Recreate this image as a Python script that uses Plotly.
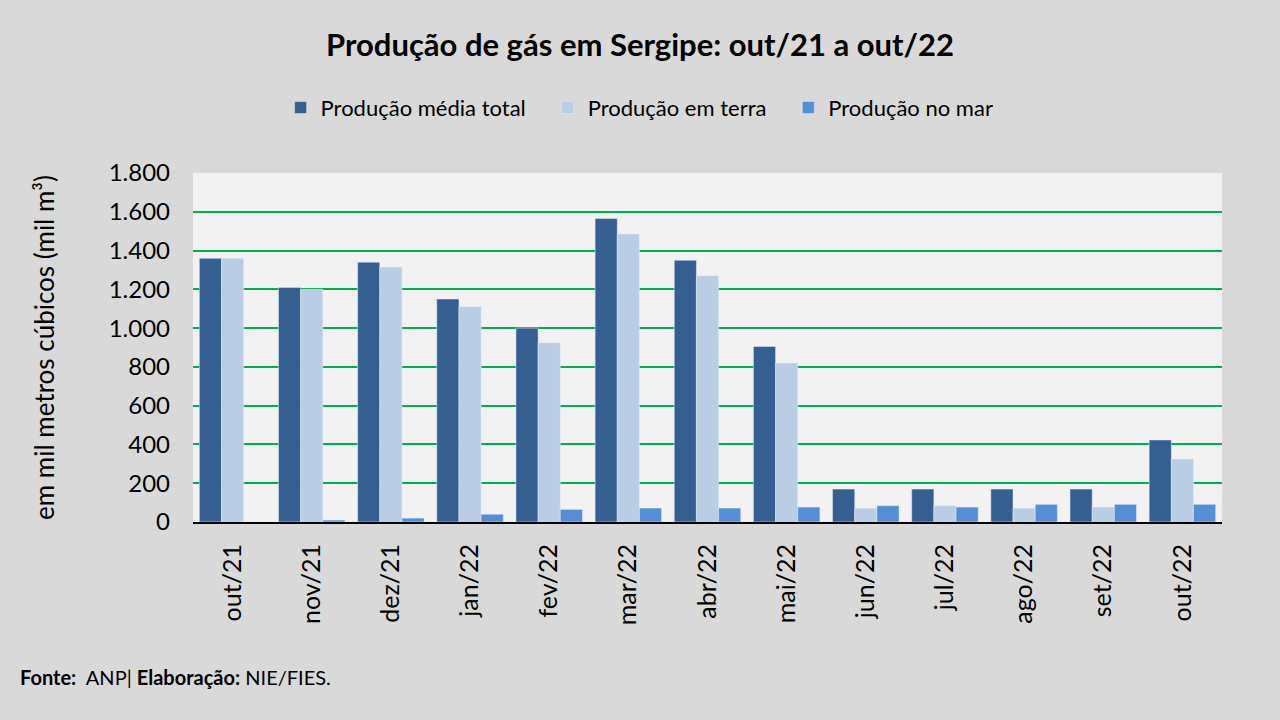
import plotly.graph_objects as go

meses = ["out/21", "nov/21", "dez/21", "jan/22", "fev/22", "mar/22", "abr/22",
         "mai/22", "jun/22", "jul/22", "ago/22", "set/22", "out/22"]

# mil m³
producao_total = [1360, 1210, 1340, 1150, 1000, 1565, 1350, 905, 170, 170, 170, 170, 423]
producao_terra = [1360, 1200, 1315, 1110, 925, 1485, 1270, 820, 71, 84, 71, 77, 325]
producao_mar = [0, 10, 20, 40, 65, 72, 72, 77, 84, 77, 91, 91, 91]

fonte = "Lato"
esp = "&nbsp;" * 3  # espaço entre itens da legenda

fig = go.Figure()
fig.add_trace(go.Bar(x=meses, y=producao_total, name="Produção média total" + esp,
                     marker_color="#355F91"))
fig.add_trace(go.Bar(x=meses, y=producao_terra, name="Produção em terra" + esp,
                     marker_color="#B9CDE5"))
fig.add_trace(go.Bar(x=meses, y=producao_mar, name="Produção no mar",
                     marker_color="#558ED5"))

fig.update_layout(
    width=1280, height=720,
    paper_bgcolor="#D9D9D9", plot_bgcolor="#F2F2F2",
    font=dict(family=fonte, color="#000000"),
    separators=",.",
    barmode="group", bargap=0.16, bargroupgap=0.0,
    margin=dict(l=193, r=58, t=173, b=198),
    title=dict(text="<b>Produção de gás em Sergipe: out/21 a out/22</b>",
               x=0.5, xanchor="center", y=0.937, yanchor="middle",
               font=dict(size=31, family=fonte)),
    legend=dict(orientation="h", x=0.434, xanchor="center", y=1.187, yanchor="middle",
                font=dict(size=22), bgcolor="rgba(0,0,0,0)", traceorder="normal"),
    showlegend=True,
)

fig.update_yaxes(range=[0, 1800], dtick=200, tickformat=",d",
                 showgrid=True, gridcolor="#00B050", gridwidth=2,
                 zeroline=False, showline=False,
                 tickfont=dict(size=24), ticks="", ticklabelstandoff=22,
                 title=dict(text="em mil metros cúbicos (mil m³)",
                            font=dict(size=26), standoff=46))
fig.update_xaxes(showline=True, linecolor="#000000", linewidth=2,
                 tickangle=-90, tickfont=dict(size=25), ticks="",
                 ticklabelstandoff=10)

fig.add_annotation(text="<b>Fonte:</b>  ANP| <b>Elaboração:</b> NIE/FIES.",
                   xref="paper", yref="paper", x=-0.170, y=-0.444,
                   xanchor="left", yanchor="middle", showarrow=False,
                   font=dict(size=20, family=fonte))

fig.write_html("out.html", config={"displayModeBar": False},
               post_script="document.body.style.margin='0';"
                           "document.body.style.overflow='hidden';")
